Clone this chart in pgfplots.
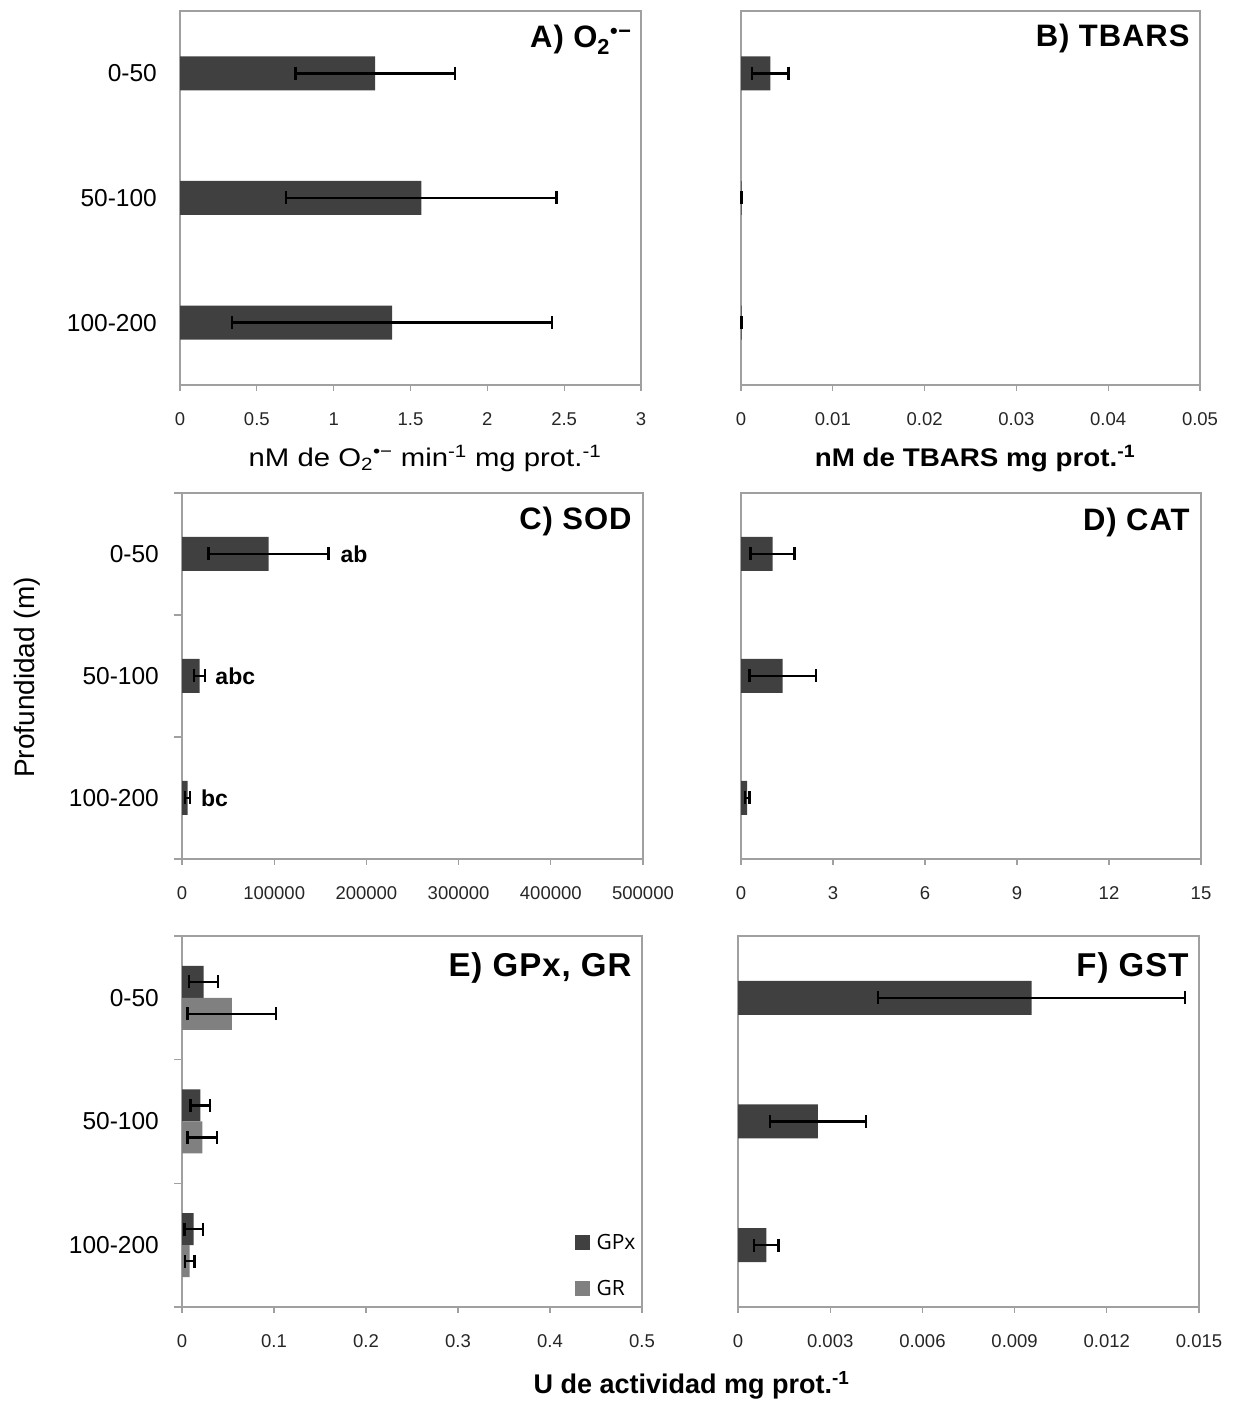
\documentclass[border=0pt]{standalone}
\usepackage{fontspec}
\setmainfont{Liberation Sans}
\newfontfamily\titlefont{Liberation Sans}[LetterSpace=3]
\newfontfamily\wideA{Liberation Sans}[FakeStretch=1.15]
\newfontfamily\wideB{Liberation Sans}[FakeStretch=1.09]
\newfontfamily\legfont{Open Sans}
\usepackage{pgfplots}
\pgfplotsset{compat=1.18}
\definecolor{bardark}{RGB}{64,64,64}
\definecolor{barlight}{RGB}{128,128,128}
\definecolor{framegray}{RGB}{160,160,160}
\newcommand{\fs}[1]{\fontsize{#1bp}{#1bp}\selectfont}
\newcommand{\ttl}[1]{{\titlefont\bfseries\fs{31}#1}}
\pgfplotsset{
  panel/.style={
    scale only axis, xbar, anchor=south west,
    xmin=0, ymin=-0.5, ymax=2.5,
    ytick={0,1,2}, yticklabels={},
    axis line style={framegray, line width=1.3bp},
    tick align=outside, major tick length=6bp, minor tick length=8bp,
    every tick/.style={framegray, line width=1.3bp},
    major y tick style={draw=none},
    xtick pos=left, ytick pos=left,
    scaled x ticks=false,
    xticklabel style={font=\fs{18.5}, text=black!85, inner sep=0pt, anchor=base, yshift=-34.6bp},
    yticklabel style={font=\fs{24.5}, inner sep=0pt, xshift=-17bp},
    bar width=34bp,
    clip=false,
    error bars/x dir=both, error bars/x explicit,
    error bars/error mark=|,
    error bars/error bar style={line width=2.5bp, black},
    error bars/error mark options={line width=2.5bp, mark size=6.5bp, black},
    legend image code/.code={\fill[#1] (0bp,-7.3bp) rectangle (14.5bp,7.3bp);},
  },
  catlabels/.style={yticklabels={100-200,50-100,0-50}},
  boundaryticks/.style={minor ytick={-0.5,0.5,1.5,2.5}},
}
\begin{document}
\begin{tikzpicture}
\path[use as bounding box] (0,0) rectangle (1234bp,1402bp);

% ---------- A ----------
\begin{axis}[panel, catlabels, at={(180bp,1017bp)}, width=461bp, height=374bp,
  xmax=3, xtick={0,0.5,1,1.5,2,2.5,3}, xticklabels={0,0.5,1,1.5,2,2.5,3}]
\addplot[fill=bardark, draw=none, line width=2.5bp] coordinates {(1.27,2) +- (0.52,0) (1.57,1) +- (0.88,0) (1.38,0) +- (1.04,0)};
\node[anchor=base east, xshift=-6bp, yshift=-37bp] at (rel axis cs:1,1) {\ttl{A) O\textsubscript{2}\textsuperscript{•−}}};
\end{axis}

% ---------- B ----------
\begin{axis}[panel, at={(741bp,1017bp)}, width=459bp, height=374bp,
  xmax=0.05, xtick={0,0.01,0.02,0.03,0.04,0.05}, xticklabels={0,0.01,0.02,0.03,0.04,0.05}]
\addplot[fill=bardark, draw=none, line width=2.5bp] coordinates {(0.0032,2) +- (0.002,0) (0.00008,1) +- (0.00002,0) (0.00008,0) +- (0.00002,0)};
\node[anchor=base east, xshift=-7bp, yshift=-36bp] at (rel axis cs:1,1) {\ttl{B) TBARS}};
\end{axis}

% ---------- C ----------
\begin{axis}[panel, catlabels, boundaryticks, at={(182bp,543bp)}, width=461bp, height=366bp,
  xmax=500000, xtick={0,100000,200000,300000,400000,500000}, xticklabels={0,100000,200000,300000,400000,500000}]
\addplot[fill=bardark, draw=none, line width=2.5bp] coordinates {(94000,2) +- (65000,0) (19000,1) +- (6000,0) (6000,0) +- (2500,0)};
\node[anchor=base east, xshift=-8bp, yshift=-37bp] at (rel axis cs:1,1) {\ttl{C) SOD}};
\node[anchor=west, inner sep=0pt, font=\bfseries\fs{23}] at (axis cs:171700,2) {ab};
\node[anchor=west, inner sep=0pt, font=\bfseries\fs{23}] at (axis cs:36100,1) {abc};
\node[anchor=west, inner sep=0pt, font=\bfseries\fs{23}] at (axis cs:20600,0) {bc};
\end{axis}

% ---------- D ----------
\begin{axis}[panel, at={(741bp,543bp)}, width=460bp, height=366bp,
  xmax=15, xtick={0,3,6,9,12,15}, xticklabels={0,3,6,9,12,15}]
\addplot[fill=bardark, draw=none, line width=2.5bp] coordinates {(1.03,2) +- (0.72,0) (1.36,1) +- (1.08,0) (0.20,0) +- (0.07,0)};
\node[anchor=base east, xshift=-8bp, yshift=-38bp] at (rel axis cs:1,1) {\ttl{D) CAT}};
\end{axis}

% ---------- E ----------
\begin{axis}[panel, catlabels, boundaryticks, at={(182bp,95bp)}, width=460bp, height=371bp,
  xmax=0.5, xtick={0,0.1,0.2,0.3,0.4,0.5}, xticklabels={0,0.1,0.2,0.3,0.4,0.5},
  bar width=32bp,
  legend style={draw=none, fill=none, at={(0.854,0.202)}, anchor=north west, inner sep=0pt,
    row sep=25bp, column sep=5bp, font=\legfont\fs{21}, cells={anchor=west}}]
\addplot[fill=bardark, draw=none, line width=2.5bp, bar shift=16bp] coordinates {(0.0236,2) +- (0.0158,0) (0.0200,1) +- (0.0105,0) (0.0127,0) +- (0.0100,0)};
\addlegendentry{GPx}
\addplot[fill=barlight, draw=none, line width=2.5bp, bar shift=-16bp] coordinates {(0.0541,2) +- (0.0480,0) (0.0222,1) +- (0.0160,0) (0.0084,0) +- (0.0050,0)};
\addlegendentry{GR}
\node[anchor=base east, xshift=-7bp, yshift=-41bp] at (rel axis cs:1,1) {{\titlefont\bfseries\fs{33}E) GPx, GR}};
\end{axis}

% ---------- F ----------
\begin{axis}[panel, at={(738bp,95bp)}, width=461bp, height=371bp,
  xmax=0.015, xtick={0,0.003,0.006,0.009,0.012,0.015}, xticklabels={0,0.003,0.006,0.009,0.012,0.015}]
\addplot[fill=bardark, draw=none, line width=2.5bp] coordinates {(0.00955,2) +- (0.0050,0) (0.00260,1) +- (0.00156,0) (0.00092,0) +- (0.00040,0)};
\node[anchor=base east, xshift=-7bp, yshift=-41bp] at (rel axis cs:1,1) {{\titlefont\bfseries\fs{33}F) GST}};
\end{axis}

% ---------- labels ----------
\node[anchor=base, font=\wideA\fs{25.5}] at (425bp,935.3bp) {nM de O\textsubscript{2}\textsuperscript{•−} min\textsuperscript{-1} mg prot.\textsuperscript{-1}};
\node[anchor=base, font=\wideB\bfseries\fs{25.5}] at (975bp,935.3bp) {nM de TBARS mg prot.\textsuperscript{-1}};
\node[anchor=base, font=\bfseries\fs{27}] at (691.5bp,8.7bp) {U de actividad mg prot.\textsuperscript{-1}};
\node[rotate=90, font=\fs{28}] at (27bp,724.5bp) {Profundidad (m)};
\end{tikzpicture}
\end{document}
